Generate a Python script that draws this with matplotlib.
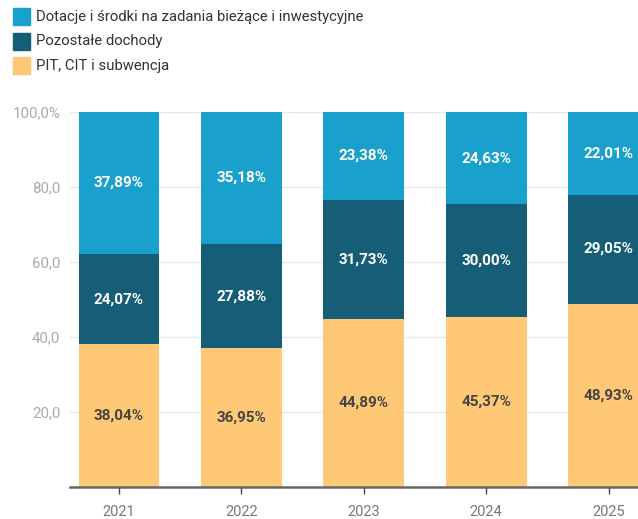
import matplotlib
matplotlib.use("Agg")
import matplotlib.pyplot as plt
from matplotlib.patches import Rectangle

plt.rcParams["font.family"] = ["Roboto", "DejaVu Sans"]

years = ["2021", "2022", "2023", "2024", "2025"]
pit_cit = [38.04, 36.95, 44.89, 45.37, 48.93]
pozostale = [24.07, 27.88, 31.73, 30.00, 29.05]
dotacje = [37.89, 35.18, 23.38, 24.63, 22.01]

series = [
    ("PIT, CIT i subwencja", pit_cit, "#fec877", "#444444"),
    ("Pozostałe dochody", pozostale, "#165e77", "white"),
    ("Dotacje i środki na zadania bieżące i inwestycyjne", dotacje, "#1aa0cc", "white"),
]

fig = plt.figure(figsize=(6.38, 5.19), dpi=100)
ax = fig.add_axes([70 / 638, 32 / 519, 1 - 70 / 638, (487 - 112) / 519])

x = list(range(len(years)))
bottom = [0.0] * len(years)
for name, vals, color, tcolor in series:
    ax.bar(x, vals, width=0.66, bottom=bottom, color=color, zorder=2)
    for i, v in enumerate(vals):
        ax.text(i, bottom[i] + v / 2, f"{v:.2f}%".replace(".", ","),
                ha="center", va="center", color=tcolor, fontsize=11,
                fontweight="bold", zorder=3)
    bottom = [b + v for b, v in zip(bottom, vals)]

ax.set_xlim(-0.40, 4.24)
ax.set_ylim(0, 100)
ax.set_yticks([20, 40, 60, 80, 100])
ax.set_yticklabels(["20,0", "40,0", "60,0", "80,0", "100,0%"])
ax.set_xticks(x)
ax.set_xticklabels(years)
ax.grid(axis="y", color="#e8e8e8", linewidth=1, zorder=0)
for s in ["top", "right", "left"]:
    ax.spines[s].set_visible(False)
ax.spines["bottom"].set_color("#666666")
ax.spines["bottom"].set_linewidth(1.8)
ax.spines["bottom"].set_zorder(4)
ax.tick_params(axis="y", length=0, pad=7, labelsize=10.8, labelcolor="#aaaaaa")
ax.tick_params(axis="x", length=5, width=1, color="#444444", pad=8,
               labelsize=10.5, labelcolor="#777777")

# legend
leg_items = [series[2], series[1], series[0]]
for k, (name, vals, color, tcolor) in enumerate(leg_items):
    yc = 17 + k * 24.5
    fig.patches.append(Rectangle((13 / 638, 1 - (yc + 8) / 519), 17 / 638, 17 / 519,
                                 transform=fig.transFigure, color=color))
    fig.text(36 / 638, 1 - yc / 519, name, ha="left", va="center",
             fontsize=10.7, color="#333333")

fig.savefig("out.png", dpi=100)
